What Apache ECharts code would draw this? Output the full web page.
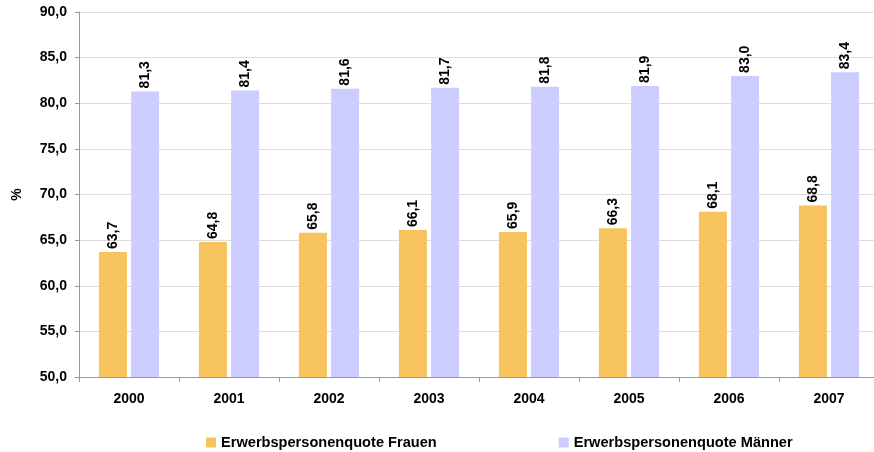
<!DOCTYPE html>
<html><head><meta charset="utf-8">
<script src="https://cdn.jsdelivr.net/npm/echarts@6/dist/echarts.min.js"></script>
<style>html,body{margin:0;padding:0;background:#fff}#c{width:874px;height:452px}</style>
</head><body><div id="c"></div>
<script>
const categories = ['2000','2001','2002','2003','2004','2005','2006','2007'];
const frauen = [63.7, 64.8, 65.8, 66.1, 65.9, 66.3, 68.1, 68.8];
const maenner = [81.3, 81.4, 81.6, 81.7, 81.8, 81.9, 83.0, 83.4];
const seriesNames = ['Erwerbspersonenquote Frauen', 'Erwerbspersonenquote Männer'];
const fmt = v => v.toFixed(1).replace('.', ',');
const font = 'Liberation Sans, Arial, sans-serif';
const chart = echarts.init(document.getElementById('c'));
const lbl = {
  show: true, position: 'top', rotate: 90, align: 'left', verticalAlign: 'middle',
  distance: 3, fontFamily: font, fontWeight: 'bold', fontSize: 14, color: '#000',
  formatter: p => fmt(p.value)
};
chart.setOption({
  animation: false,
  textStyle: {fontFamily: font},
  grid: {left: 79, top: 12, width: 800, bottom: 75, containLabel: false, outerBoundsMode: 'none'},
  legend: {
    top: 430, left: 201, itemGap: 122, itemWidth: 10, itemHeight: 10, icon: 'rect',
    textStyle: {fontFamily: font, fontWeight: 'bold', fontSize: 14.6, color: '#000'},
    data: seriesNames
  },
  xAxis: {
    type: 'category', data: categories,
    axisLine: {lineStyle: {color: '#999'}},
    axisTick: {show: true, alignWithLabel: false, lineStyle: {color: '#999'}, length: 5},
    axisLabel: {fontFamily: font, fontWeight: 'bold', fontSize: 14, color: '#000', margin: 15}
  },
  yAxis: {
    type: 'value', min: 50, max: 90, interval: 5,
    name: '%', nameLocation: 'middle', nameGap: 55, nameRotate: 90,
    nameTextStyle: {fontFamily: font, fontWeight: 'bold', fontSize: 14, color: '#000'},
    axisLine: {show: true, lineStyle: {color: '#999'}},
    axisTick: {show: true, length: 4, lineStyle: {color: '#999'}},
    splitLine: {lineStyle: {color: '#ddd'}},
    axisLabel: {fontFamily: font, fontWeight: 'bold', fontSize: 14, color: '#000', margin: 12, formatter: v => fmt(v)}
  },
  series: [
    {name: seriesNames[0], type: 'bar', data: frauen, barWidth: 28, barGap: '15%',
     itemStyle: {color: '#F7C35F'}, label: lbl},
    {name: seriesNames[1], type: 'bar', data: maenner, barWidth: 28,
     itemStyle: {color: '#CCCCFF'}, label: lbl}
  ]
});
</script></body></html>
